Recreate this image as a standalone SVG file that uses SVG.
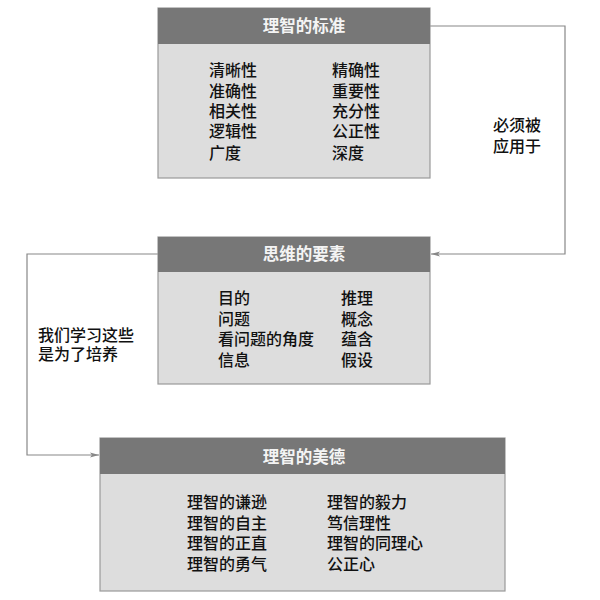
<svg xmlns="http://www.w3.org/2000/svg" width="600" height="600" viewBox="0 0 600 600">
<defs>
<marker id="arr" markerWidth="10" markerHeight="6" refX="9" refY="3" orient="auto" markerUnits="userSpaceOnUse">
<path d="M0,0.5 L9,3 L0,5.5 L2,3 Z" fill="#888"/>
</marker>
</defs>
<style>
.hdr{fill:#777777}
.body{fill:#dddddd;stroke:#9a9a9a;stroke-width:1.2}
.title{font-family:"Noto Sans CJK SC","Noto Sans",sans-serif;font-size:16.5px;font-weight:bold;fill:#f4f4f4;text-anchor:middle}
.item{font-family:"Noto Sans CJK SC","Noto Sans",sans-serif;font-size:16px;font-weight:500;fill:#111}
.lbl{font-family:"Noto Sans CJK SC","Noto Sans",sans-serif;font-size:16px;font-weight:500;fill:#111}
.conn{fill:none;stroke:#888;stroke-width:1.2}
</style>
<rect width="600" height="600" fill="#ffffff"/>
<g id="connectors">
<polyline class="conn" points="430,26 565,26 565,254 431,254" marker-end="url(#arr)"/>
<polyline class="conn" points="158,254 27,254 27,455 99,455" marker-end="url(#arr)"/>
<text class="lbl"><tspan x="493" y="131">必须被</tspan><tspan x="493" y="152">应用于</tspan></text>
<text class="lbl"><tspan x="38" y="341">我们学习这些</tspan><tspan x="38" y="360">是为了培养</tspan></text>
</g>
<g id="node-standards">
<rect class="body" x="158" y="8" width="272" height="170"/>
<rect class="hdr" x="158" y="8" width="272" height="36"/>
<text class="title" x="304" y="32">理智的标准</text>
<text class="item"><tspan x="209" y="76">清晰性</tspan><tspan x="209" y="97">准确性</tspan><tspan x="209" y="117">相关性</tspan><tspan x="209" y="137">逻辑性</tspan><tspan x="209" y="159">广度</tspan></text>
<text class="item"><tspan x="332" y="76">精确性</tspan><tspan x="332" y="97">重要性</tspan><tspan x="332" y="117">充分性</tspan><tspan x="332" y="137">公正性</tspan><tspan x="332" y="159">深度</tspan></text>
</g>
<g id="node-elements">
<rect class="body" x="158" y="237" width="272" height="147"/>
<rect class="hdr" x="158" y="237" width="272" height="35"/>
<text class="title" x="304" y="260">思维的要素</text>
<text class="item"><tspan x="218" y="304">目的</tspan><tspan x="218" y="325">问题</tspan><tspan x="218" y="345">看问题的角度</tspan><tspan x="218" y="366">信息</tspan></text>
<text class="item"><tspan x="341" y="304">推理</tspan><tspan x="341" y="325">概念</tspan><tspan x="341" y="345">蕴含</tspan><tspan x="341" y="366">假设</tspan></text>
</g>
<g id="node-virtues">
<rect class="body" x="100" y="438" width="405" height="153"/>
<rect class="hdr" x="100" y="438" width="405" height="36"/>
<text class="title" x="304" y="463">理智的美德</text>
<text class="item"><tspan x="187" y="508">理智的谦逊</tspan><tspan x="187" y="529">理智的自主</tspan><tspan x="187" y="549">理智的正直</tspan><tspan x="187" y="570">理智的勇气</tspan></text>
<text class="item"><tspan x="327" y="508">理智的毅力</tspan><tspan x="327" y="529">笃信理性</tspan><tspan x="327" y="549">理智的同理心</tspan><tspan x="327" y="570">公正心</tspan></text>
</g>
</svg>
